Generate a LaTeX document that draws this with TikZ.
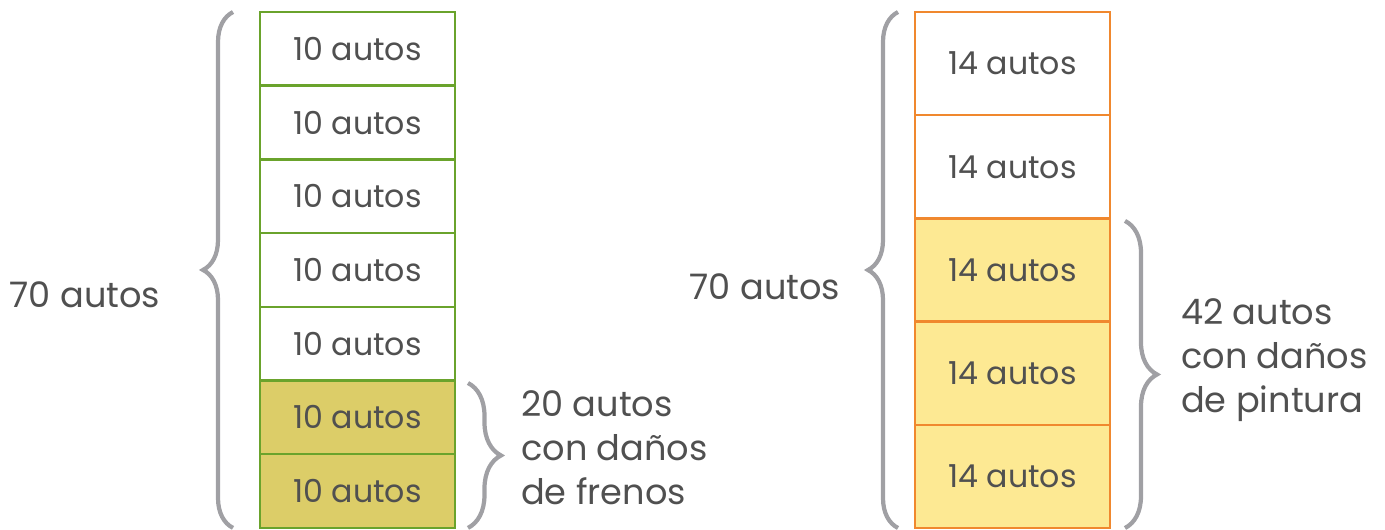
\documentclass[tikz,border=0pt]{standalone}
\usepackage{fontspec}
\setmainfont{Poppins}
\usepackage{tikz}
\usetikzlibrary{positioning}
\usetikzlibrary{decorations.pathreplacing}

\definecolor{txtgray}{HTML}{505050}
\definecolor{bracegray}{HTML}{A0A0A4}
\definecolor{leafgreen}{HTML}{6AA32C}
\definecolor{olivefill}{HTML}{DCCD68}
\definecolor{tangerine}{HTML}{F0882E}
\definecolor{butterfill}{HTML}{FDE993}

\begin{document}
\begin{tikzpicture}[node distance=0pt,
  every node/.style={text=txtgray},
  cell/.style={draw,line width=1.4pt,minimum width=3.9cm,outer sep=0pt,inner sep=0pt,
    font=\fontsize{18}{21}\selectfont},
  green cell/.style={cell,draw=leafgreen,minimum height=1.474cm},
  orange cell/.style={cell,draw=tangerine,minimum height=2.064cm},
  brace line/.style={draw=bracegray,line width=2.4pt,decorate,
    decoration={brace,amplitude=0.6cm,raise=0pt}},
  label/.style={font=\fontsize{20}{25}\selectfont,align=left}]

  \useasboundingbox (0,0) rectangle (27.7,-10.58);

  % left column
  \node[green cell,anchor=north] (g1) at (7.15,-0.24) {10 autos};
  \node[green cell] (g2) [below=of g1] {10 autos};
  \node[green cell] (g3) [below=of g2] {10 autos};
  \node[green cell] (g4) [below=of g3] {10 autos};
  \node[green cell] (g5) [below=of g4] {10 autos};
  \node[green cell,fill=olivefill] (g6) [below=of g5] {10 autos};
  \node[green cell,fill=olivefill] (g7) [below=of g6] {10 autos};

  % right column
  \node[orange cell,anchor=north] (o1) at (20.25,-0.24) {14 autos};
  \node[orange cell] (o2) [below=of o1] {14 autos};
  \node[orange cell,fill=butterfill] (o3) [below=of o2] {14 autos};
  \node[orange cell,fill=butterfill] (o4) [below=of o3] {14 autos};
  \node[orange cell,fill=butterfill] (o5) [below=of o4] {14 autos};

  % braces
  \path[brace line] ([xshift=-0.54cm]g7.south west) -- ([xshift=-0.54cm]g1.north west);
  \path[brace line,decoration={amplitude=0.66cm}] ([xshift=0.26cm,yshift=-0.05cm]g6.north east) -- ([xshift=0.26cm]g7.south east);
  \path[brace line] ([xshift=-0.34cm]o5.south west) -- ([xshift=-0.34cm]o1.north west);
  \path[brace line,decoration={amplitude=0.64cm}] ([xshift=0.3cm,yshift=-0.05cm]o3.north east) -- ([xshift=0.3cm]o5.south east);

  % labels
  \node[label] (l70) at (1.7,-5.9) {70 autos};
  \node[label] (r70) at (15.3,-5.74) {70 autos};
  \node[label,anchor=west] (frenos) at (10.3,-8.96) {20 autos\\con daños\\de frenos};
  \node[label,anchor=west] (pintura) at (23.5,-7.2) {42 autos\\con daños\\de pintura};
\end{tikzpicture}
\end{document}
